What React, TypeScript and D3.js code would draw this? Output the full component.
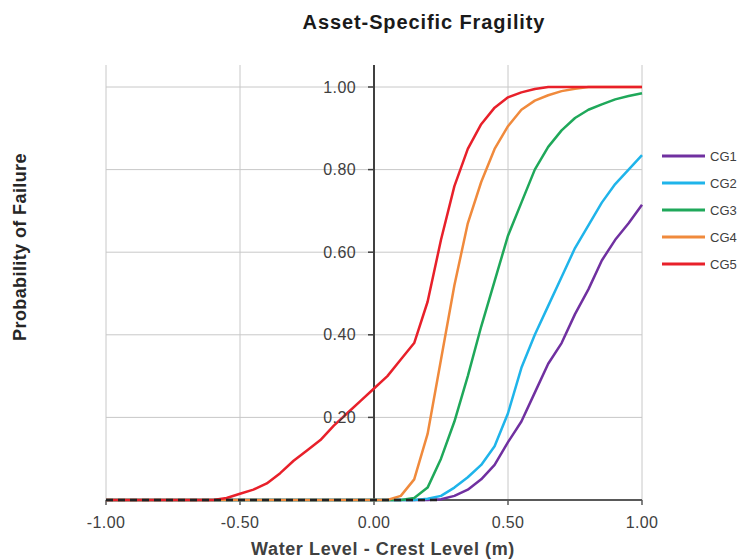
import React from 'react';
import * as d3 from 'd3';

const xs = [-1, -0.95, -0.9, -0.85, -0.8, -0.75, -0.7, -0.65, -0.6, -0.55, -0.5, -0.45, -0.4, -0.35, -0.3, -0.25, -0.2, -0.15, -0.1, -0.05,
  0, 0.05, 0.1, 0.15, 0.2, 0.25, 0.3, 0.35, 0.4, 0.45, 0.5, 0.55, 0.6, 0.65, 0.7, 0.75, 0.8, 0.85, 0.9, 0.95, 1];

const cg1 = [0, 0, 0, 0, 0, 0, 0, 0, 0, 0, 0, 0, 0, 0, 0, 0, 0, 0, 0, 0,
  0, 0, 0, 0, 0, 0.002, 0.01, 0.025, 0.05, 0.085, 0.14, 0.19, 0.26, 0.33, 0.38, 0.45, 0.51, 0.58, 0.63, 0.67, 0.715];
const cg2 = [0, 0, 0, 0, 0, 0, 0, 0, 0, 0, 0, 0, 0, 0, 0, 0, 0, 0, 0, 0,
  0, 0, 0, 0, 0.003, 0.01, 0.03, 0.055, 0.085, 0.13, 0.21, 0.32, 0.4, 0.47, 0.54, 0.61, 0.665, 0.72, 0.765, 0.8, 0.835];
const cg3 = [0, 0, 0, 0, 0, 0, 0, 0, 0, 0, 0, 0, 0, 0, 0, 0, 0, 0, 0, 0,
  0, 0, 0, 0.005, 0.03, 0.1, 0.19, 0.3, 0.42, 0.53, 0.64, 0.72, 0.8, 0.855, 0.895, 0.925, 0.945, 0.958, 0.97, 0.978, 0.985];
const cg4 = [0, 0, 0, 0, 0, 0, 0, 0, 0, 0, 0, 0, 0, 0, 0, 0, 0, 0, 0, 0,
  0, 0, 0.01, 0.05, 0.16, 0.34, 0.52, 0.67, 0.77, 0.85, 0.905, 0.945, 0.967, 0.98, 0.99, 0.996, 1, 1, 1, 1, 1];
const cg5 = [0, 0, 0, 0, 0, 0, 0, 0, 0, 0.005, 0.015, 0.025, 0.04, 0.065, 0.095, 0.12, 0.145, 0.18, 0.21, 0.24,
  0.27, 0.3, 0.34, 0.38, 0.48, 0.63, 0.76, 0.85, 0.91, 0.95, 0.975, 0.987, 0.995, 1, 1, 1, 1, 1, 1, 1, 1];

const seriesNames = ['CG1', 'CG2', 'CG3', 'CG4', 'CG5'];
const seriesValues = [cg1, cg2, cg3, cg4, cg5];
const colors = ['#7030a0', '#1fb4ea', '#1fa85a', '#f08a3c', '#e8202a'];

const xTicks = [-1, -0.5, 0, 0.5, 1];
const yTicks = [0.2, 0.4, 0.6, 0.8, 1.0];

const W = 742;
const H = 559;
const font = '"Liberation Sans", Arial, sans-serif';

export default function App() {
  const x = d3.scaleLinear().domain([-1, 1]).range([106, 642]);
  const y = d3.scaleLinear().domain([0, 1]).range([500, 87]);
  const top = 65;

  const line = d3.line<number>()
    .x((d, i) => x(xs[i]))
    .y(d => y(d));

  // zero run of the first series, drawn dashed on the axis like the original
  const zeroIdx = cg1.findIndex(v => v > 0);
  const zeroLine = d3.line<number>().x(d => x(d)).y(() => y(0))(xs.slice(0, zeroIdx + 1));

  return (
    <svg width={W} height={H} style={{ position: 'absolute', left: 0, top: 0, background: '#fff' }}>
      <text x={424} y={29} textAnchor="middle" fontFamily={font} fontWeight="bold" fontSize={20} letterSpacing={0.9} fill="#1a1a1a">
        Asset-Specific  Fragility
      </text>

      {/* gridlines */}
      {xTicks.filter(t => t !== 0).map(t => (
        <line key={'gx' + t} x1={x(t)} x2={x(t)} y1={top} y2={y(0)} stroke="#c8c8c8" strokeWidth={1} />
      ))}
      {yTicks.map(t => (
        <line key={'gy' + t} x1={x(-1)} x2={x(1)} y1={y(t)} y2={y(t)} stroke="#c8c8c8" strokeWidth={1} />
      ))}

      {/* axes */}
      <line x1={x(-1)} x2={x(1)} y1={y(0)} y2={y(0)} stroke="#595959" strokeWidth={2} />
      <line x1={x(0)} x2={x(0)} y1={top} y2={y(0)} stroke="#404040" strokeWidth={2} />
      {yTicks.map(t => (
        <line key={'ty' + t} x1={x(0) - 6} x2={x(0)} y1={y(t)} y2={y(t)} stroke="#404040" strokeWidth={1.5} />
      ))}
      {xTicks.map(t => (
        <line key={'tx' + t} x1={x(t)} x2={x(t)} y1={y(0)} y2={y(0) + 5} stroke="#595959" strokeWidth={1.5} />
      ))}

      {/* series */}
      {seriesValues.map((vals, i) => (
        <path key={seriesNames[i]} d={line(vals) || ''} fill="none" stroke={colors[i]} strokeWidth={2.5} strokeLinejoin="round" />
      ))}
      <path d={zeroLine || ''} fill="none" stroke="#222" strokeWidth={2.5} strokeDasharray="7 5" />

      {/* tick labels */}
      {yTicks.map(t => (
        <text key={'ly' + t} x={x(0) - 18} y={y(t)} dy="0.35em" textAnchor="end" fontFamily={font} fontSize={16} letterSpacing={0.4} fill="#404040">
          {d3.format('.2f')(t)}
        </text>
      ))}
      {xTicks.map(t => (
        <text key={'lx' + t} x={x(t)} y={528} textAnchor="middle" fontFamily={font} fontSize={16} letterSpacing={0.4} fill="#404040">
          {d3.format('.2f')(t).replace('−', '-')}
        </text>
      ))}

      {/* axis titles */}
      <text x={383} y={555} textAnchor="middle" fontFamily={font} fontWeight="bold" fontSize={18} letterSpacing={0.6} fill="#404040">
        Water Level - Crest Level (m)
      </text>
      <text transform={`translate(26,247) rotate(-90)`} textAnchor="middle" fontFamily={font} fontWeight="bold" fontSize={18} letterSpacing={0.4} fill="#262626">
        Probability of Failure
      </text>

      {/* legend */}
      {seriesNames.map((n, i) => (
        <g key={'lg' + n} transform={`translate(662,${156 + i * 27})`}>
          <line x1={0} x2={43} y1={0} y2={0} stroke={colors[i]} strokeWidth={3} />
          <text x={48} y={0} dy="0.35em" fontFamily={font} fontSize={13} fill="#404040">{n}</text>
        </g>
      ))}
    </svg>
  );
}
